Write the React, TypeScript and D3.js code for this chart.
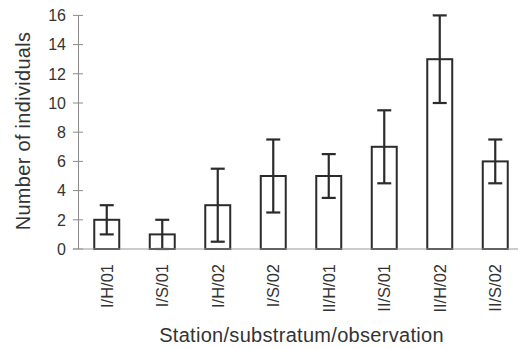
import React from 'react';
import * as d3 from 'd3';

const CATEGORIES = ['I/H/01', 'I/S/01', 'I/H/02', 'I/S/02', 'II/H/01', 'II/S/01', 'II/H/02', 'II/S/02'];
const MEANS = [2, 1, 3, 5, 5, 7, 13, 6];
const ERRORS = [1, 1, 2.5, 2.5, 1.5, 2.5, 3, 1.5];
const Y_TICKS = [0, 2, 4, 6, 8, 10, 12, 14, 16];

const W = 518, H = 349;
const FONT = '"Liberation Sans", Arial, Helvetica, sans-serif';
const INK = '#2b2b2b';

export default function App() {
  const x = d3.scaleBand<string>()
    .domain(CATEGORIES)
    .range([79, 523])
    .paddingInner(0.55)
    .paddingOuter(0.275);
  const y = d3.scaleLinear().domain([0, 16]).range([249, 15.4]);
  const bw = x.bandwidth();
  const cap = 7;

  return (
    <div style={{ position: 'fixed', left: 0, top: 0 }}>
      <svg width={W} height={H} viewBox={`0 0 ${W} ${H}`} style={{ display: 'block', background: '#fff' }}>
        {/* y axis */}
        <line x1={78.5} x2={78.5} y1={y(16)} y2={y(0)} stroke="#8a8a8a" strokeWidth={1} />
        {Y_TICKS.map(t => (
          <g key={t}>
            <line x1={73} x2={83} y1={y(t)} y2={y(t)} stroke="#8a8a8a" strokeWidth={1} />
            <text x={66} y={y(t)} dy="0.36em" textAnchor="end" fontSize={16}
              fontFamily={FONT} fill="#333">{t}</text>
          </g>
        ))}

        {/* bars */}
        {CATEGORIES.map((c, i) => {
          const x0 = x(c)!;
          const cx = x0 + bw / 2;
          const hi = y(MEANS[i] + ERRORS[i]);
          const lo = y(Math.max(0, MEANS[i] - ERRORS[i]));
          return (
            <g key={c}>
              <rect x={x0} y={y(MEANS[i])} width={bw} height={y(0) - y(MEANS[i])}
                fill="#fff" stroke={INK} strokeWidth={2} />
              <line x1={cx} x2={cx} y1={hi} y2={lo} stroke={INK} strokeWidth={2.2} />
              <line x1={cx - cap} x2={cx + cap} y1={hi} y2={hi} stroke={INK} strokeWidth={2.2} />
              <line x1={cx - cap} x2={cx + cap} y1={lo} y2={lo} stroke={INK} strokeWidth={2.2} />
            </g>
          );
        })}

        {/* x axis */}
        <line x1={73} x2={W} y1={249} y2={249} stroke="#9a9a9a" strokeWidth={1.2} />
        {CATEGORIES.map(c => {
          const cx = x(c)! + bw / 2;
          return (
            <text key={c} transform={`translate(${cx},264) rotate(-90)`} dy="0.36em"
              textAnchor="end" fontSize={16.5} fontFamily={FONT} fill="#333">{c}</text>
          );
        })}

        {/* titles */}
        <text x={301.5} y={342} textAnchor="middle" fontSize={20} letterSpacing={0.3}
          fontFamily={FONT} fill="#333">Station/substratum/observation</text>
        <text transform="translate(30,131) rotate(-90)" textAnchor="middle" fontSize={20}
          letterSpacing={0.3} fontFamily={FONT} fill="#333">Number of individuals</text>
      </svg>
    </div>
  );
}
